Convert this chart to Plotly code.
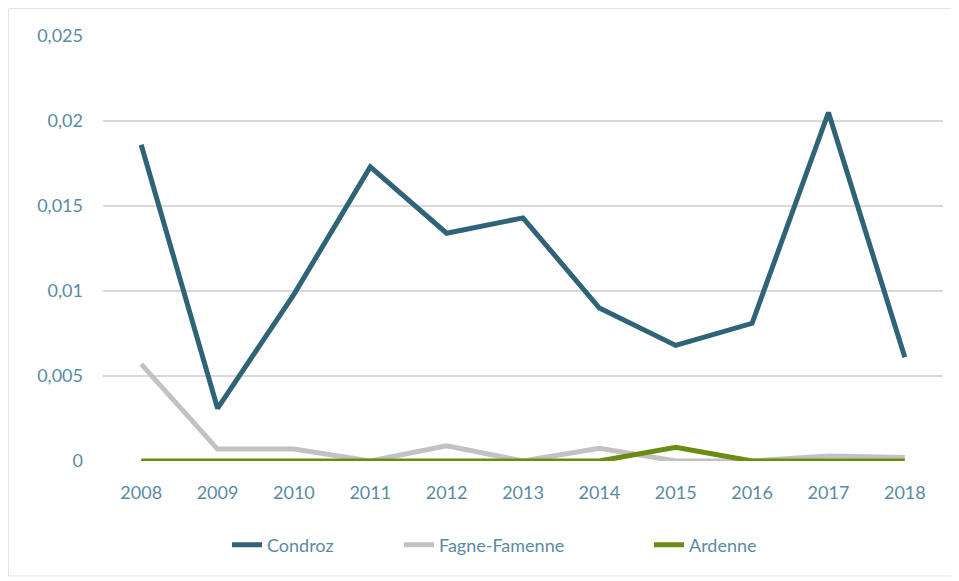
import plotly.graph_objects as go

years = ["2008", "2009", "2010", "2011", "2012", "2013", "2014", "2015", "2016", "2017", "2018"]
condroz = [0.0186, 0.0031, 0.0098, 0.0173, 0.0134, 0.0143, 0.0090, 0.0068, 0.0081, 0.0205, 0.0061]
fagne = [0.0057, 0.0007, 0.0007, 0.0, 0.0009, 0.0, 0.00075, 0.0, 0.0, 0.0003, 0.0002]
ardenne = [0.0, 0.0, 0.0, 0.0, 0.0, 0.0, 0.0, 0.0008, 0.0, 0.0, 0.0]
y_ticks = [0, 0.005, 0.01, 0.015, 0.02, 0.025]
y_labels = ["0", "0,005", "0,01", "0,015", "0,02", "0,025"]

tick_color = "#5b8ba3"

# page body has an 8px margin; figure is placed at (8, 8)
OFF = 8
FW, FH = 959 - OFF, 581 - OFF
L, R, T, B = 103 - OFF, 959 - 943, 36 - OFF, 581 - 461
W_plot = FW - L - R
H_plot = FH - T - B
def px_x(x):
    return (x - OFF - L) / W_plot
def px_y(y):
    return (FH - B - (y - OFF)) / H_plot

fig = go.Figure()
fig.add_trace(go.Scatter(x=years, y=condroz, name="Condroz", mode="lines", showlegend=True,
                         line=dict(color="#2f6378", width=5), legend="legend"))
fig.add_trace(go.Scatter(x=years, y=fagne, name="Fagne-Famenne", mode="lines", showlegend=True,
                         line=dict(color="#c2c2c2", width=5), legend="legend2"))
fig.add_trace(go.Scatter(x=years, y=ardenne, name="Ardenne", mode="lines", showlegend=True,
                         line=dict(color="#6a8c14", width=5), legend="legend3"))

leg_common = dict(orientation="h", xanchor="left", yanchor="middle", y=px_y(545),
                  font=dict(size=18, color=tick_color), bgcolor="rgba(0,0,0,0)",
                  visible=True)

fig.update_layout(
    width=FW, height=FH, showlegend=True,
    paper_bgcolor="white", plot_bgcolor="white",
    margin=dict(l=L, r=R, t=T, b=B, autoexpand=False),
    font=dict(family="Lato, Open Sans, sans-serif", size=18, color=tick_color),
    xaxis=dict(type="category", range=[-0.5, 10.5], showgrid=False, showline=False,
               zeroline=False, ticks="", ticklabelstandoff=19, automargin=False),
    yaxis=dict(range=[0, 0.025], tickvals=y_ticks, ticktext=y_labels,
               showgrid=True, gridcolor="#d9d9d9", gridwidth=2, zeroline=False,
               showline=False, ticks="", ticklabelstandoff=19, automargin=False),
    legend=dict(x=px_x(227), **leg_common),
    legend2=dict(x=px_x(399), **leg_common),
    legend3=dict(x=px_x(649), **leg_common),
    shapes=[
        dict(type="rect", xref="paper", yref="paper", x0=px_x(8.5), x1=px_x(958.5),
             y0=px_y(576), y1=px_y(8.5), line=dict(color="#e3e3e3", width=1),
             fillcolor="rgba(0,0,0,0)", layer="below"),
    ],
)
fig.write_html("out.html")
